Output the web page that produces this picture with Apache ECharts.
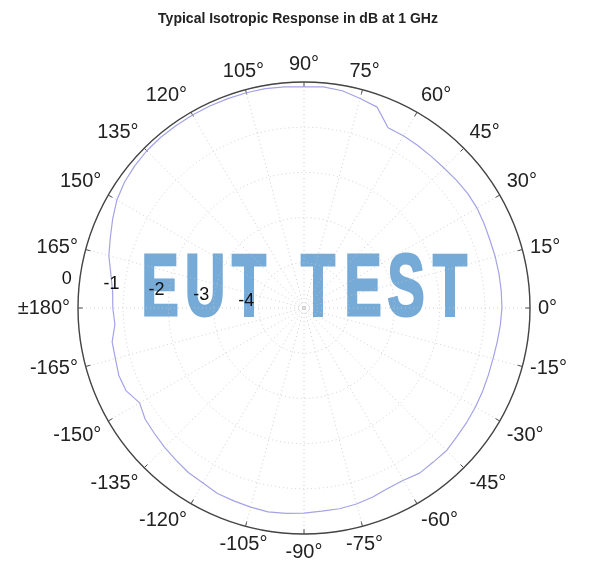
<!DOCTYPE html>
<html>
<head>
<meta charset="utf-8">
<script src="https://cdn.jsdelivr.net/npm/echarts@6/dist/echarts.min.js"></script>
<style>
  html, body { margin: 0; padding: 0; background: #fff; }
  #main { width: 600px; height: 573px; }
</style>
</head>
<body>
<div id="main"></div>
<script type="text/javascript">
// angles in degrees, response in dB
var angles = [];
for (var a = -180; a <= 180; a += 5) { angles.push(a); }
var response = [
  -0.77, -0.80, -0.69, -0.68, -0.64, -0.66, -0.80, -0.71, -0.68, -0.64,
  -0.60, -0.55, -0.53, -0.47, -0.46, -0.44, -0.42, -0.44, -0.46, -0.49,
  -0.49, -0.51, -0.55, -0.60, -0.60, -0.54, -0.55, -0.54, -0.58, -0.60,
  -0.62, -0.64, -0.66, -0.67, -0.66, -0.64, -0.62, -0.62, -0.62, -0.62,
  -0.62, -0.60, -0.58, -0.58, -0.60, -0.62, -0.62, -0.61, -0.60, -0.60,
  -0.27, -0.20, -0.12, -0.09, -0.11, -0.09, -0.07, -0.07, -0.07, -0.07,
  -0.07, -0.07, -0.07, -0.08, -0.11, -0.15, -0.22, -0.33, -0.44, -0.53,
  -0.66, -0.75, -0.77
];
var radialTicks = [0, -1, -2, -3, -4];
var radialLabelAngle = 173;

var font = '"Liberation Sans", Arial, sans-serif';
var chart = echarts.init(document.getElementById('main'));

var lineData = [];
for (var i = 0; i < angles.length; i++) {
  lineData.push([response[i], angles[i]]);
}
var labelData = radialTicks.map(function (v) { return [v, radialLabelAngle]; });

// watermark, one letter at a time so the spacing matches
var mark = [['E', 160], ['U', 205], ['T', 249], ['T', 318], ['E', 363], ['S', 406], ['T', 450]];
var graphics = mark.map(function (m) {
  return {
    type: 'text',
    x: m[1],
    y: 291,
    scaleX: 0.64,
    z: 0,
    silent: true,
    style: {
      text: m[0],
      x: 0, y: 0,
      align: 'center',
      verticalAlign: 'middle',
      font: 'bold 87px ' + font,
      fill: '#76aad7',
      stroke: '#76aad7',
      lineWidth: 3
    }
  };
});

var option = {
  animation: false,
  title: {
    text: 'Typical Isotropic Response in dB at 1 GHz',
    left: 293,
    textAlign: 'center',
    top: 7,
    textStyle: { fontSize: 14, fontWeight: 'bold', color: '#222', fontFamily: font }
  },
  graphic: graphics,
  polar: { center: [304, 308], radius: 226 },
  angleAxis: {
    type: 'value',
    min: -180,
    max: 180,
    interval: 15,
    startAngle: 180,
    clockwise: false,
    axisLine: { lineStyle: { color: '#444', width: 1.4 } },
    axisTick: { inside: true, length: 5, lineStyle: { color: '#444', width: 1 } },
    axisLabel: {
      margin: 8,
      fontSize: 20,
      color: '#222',
      fontFamily: font,
      formatter: function (v) {
        if (v === -180) return '\u00b1180\u00b0';
        if (v === 180) return '';
        return v + '\u00b0';
      }
    },
    splitLine: { lineStyle: { color: '#c4c4c4', width: 0.8, type: [1, 3] } }
  },
  radiusAxis: {
    type: 'value',
    min: -5,
    max: 0,
    interval: 1,
    axisLine: { show: false },
    axisTick: { show: false },
    axisLabel: { show: false },
    splitLine: { lineStyle: { color: '#c4c4c4', width: 0.8, type: [1, 3] } }
  },
  series: [
    {
      type: 'line',
      coordinateSystem: 'polar',
      data: lineData,
      showSymbol: false,
      lineStyle: { color: '#a3a3e6', width: 1.2 },
      z: 3
    },
    {
      type: 'scatter',
      coordinateSystem: 'polar',
      data: labelData,
      symbolSize: 1,
      itemStyle: { color: 'transparent', opacity: 1 },
      label: {
        show: true,
        position: 'inside',
        offset: [-13, -1.6],
        fontSize: 18,
        color: '#111',
        fontFamily: font,
        formatter: function (p) { return String(p.value[0]); }
      },
      z: 5
    }
  ]
};
chart.setOption(option);
</script>
</body>
</html>
